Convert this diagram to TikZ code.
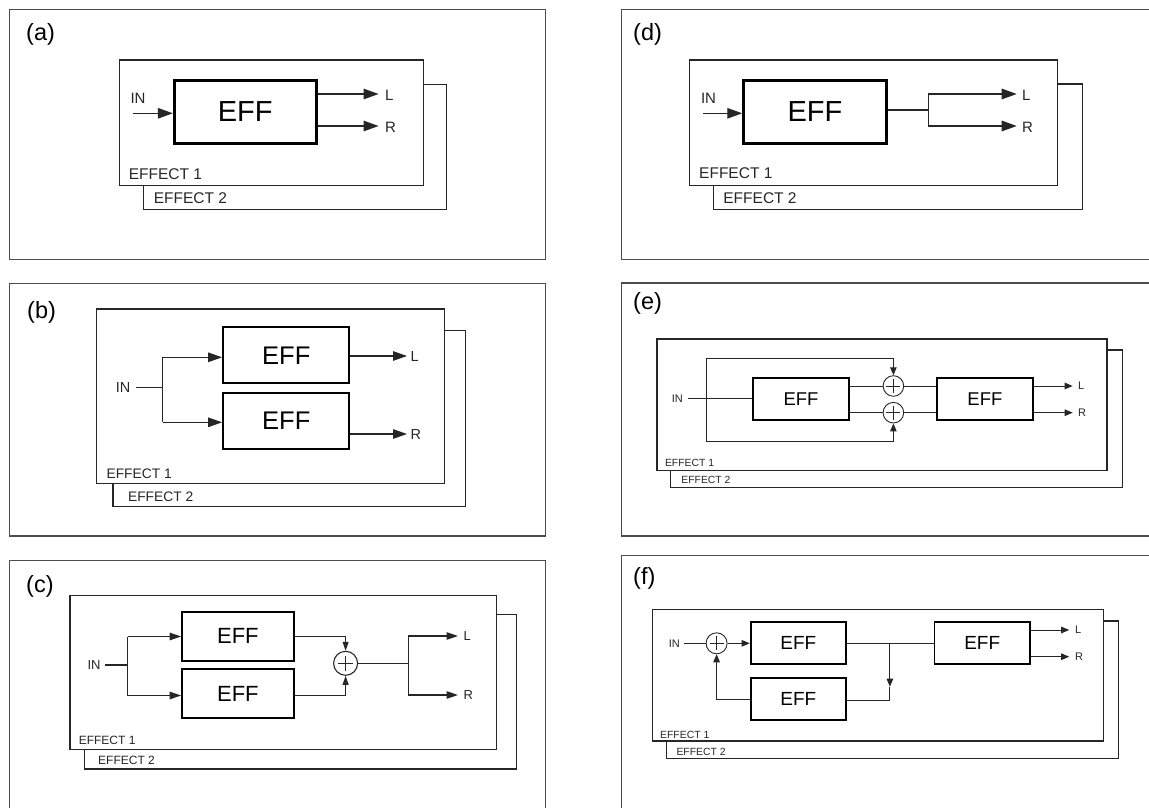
\documentclass[tikz,border=0pt]{standalone}
\usepackage{fontspec}
\setmainfont{Liberation Sans}
\usetikzlibrary{arrows.meta}
\newcommand{\pxf}[1]{\fontsize{#1}{#1}\selectfont}
\tikzset{
  panel/.style={draw=black!70, line width=1.2pt},
  frm/.style={draw=black!85, fill=white, line width=#1},
  frm/.default=1.2pt,
  effn/.style={draw=black, fill=white, inner sep=0pt},
  txt/.style={inner sep=0pt, text=black!85},
  lab/.style={inner sep=0pt, anchor=west, font=\pxf{23.5}},
  sumn/.style={draw=black!85, fill=white, circle, inner sep=0pt},
  conn/.style={draw=black!85, line width=#1},
  conn/.default=1.3pt,
  tipA/.style={-{Triangle[length=15pt,width=10.5pt]}},
  tipB/.style={-{Triangle[length=14pt,width=9.5pt]}},
  tipC/.style={-{Triangle[length=11.5pt,width=7.5pt]}},
  tipS/.style={-{Triangle[length=9pt,width=6pt]}},
  tipE/.style={-{Triangle[length=8pt,width=6.5pt]}},
}
\begin{document}
\begin{tikzpicture}[x=1pt,y=-1pt]
\useasboundingbox (0,0) rectangle (1149,808);

% ================= (a) =================
\draw[panel] (9.5,9.5) rectangle (545.5,259.5);
\node[lab] (a-lab) at (26,34) {(a)};
\draw[frm] (143.6,84.3) rectangle (446.4,209.3);
\draw[frm] (119.6,60) rectangle (423.2,185.3);
\node[effn, line width=2.7pt, minimum width=142pt, minimum height=63pt, font=\pxf{29}] (a-eff) at (245.2,111.7) {EFF};
\node[txt, font=\pxf{15}] (a-in) at (138,98) {IN};
\coordinate (a-ins) at (133,113.3);
\draw[conn, tipA] (a-ins) -- (a-ins -| a-eff.west);
\coordinate (a-Lc) at (378.6,94);
\coordinate (a-Rc) at (378.6,126);
\draw[conn, tipA] (a-eff.east |- a-Lc) -- (a-Lc);
\draw[conn, tipA] (a-eff.east |- a-Rc) -- (a-Rc);
\node[txt, anchor=west, font=\pxf{15}] (a-L) at (385,95.5) {L};
\node[txt, anchor=west, font=\pxf{15}] (a-R) at (385,127) {R};
\node[txt, anchor=west, font=\pxf{15.5}] (a-e1) at (128.6,173.7) {EFFECT 1};
\node[txt, anchor=west, font=\pxf{15.5}] (a-e2) at (153.6,197.8) {EFFECT 2};

% ================= (d) =================
\draw[panel] (1152,9.5) -- (621.7,9.5) -- (621.7,259.5) -- (1152,259.5);
\node[lab] (d-lab) at (633,34) {(d)};
\draw[frm] (713.1,84) rectangle (1082.2,209.3);
\draw[frm] (689.3,60) rectangle (1057.6,185.3);
\node[effn, line width=2.7pt, minimum width=142.8pt, minimum height=63pt, font=\pxf{29}] (d-eff) at (815,111.7) {EFF};
\node[txt, font=\pxf{15}] (d-in) at (708.5,98.3) {IN};
\coordinate (d-ins) at (703.3,113.3);
\draw[conn, tipA] (d-ins) -- (d-ins -| d-eff.west);
\coordinate (d-sp) at (928.4,110);
\coordinate (d-Lc) at (1016.7,94);
\coordinate (d-Rc) at (1016.7,126);
\draw[conn] (d-eff.east |- d-sp) -- (d-sp);
\draw[conn, tipA] (d-Lc -| d-sp) -- (d-Lc);
\draw[conn, tipA] (d-Rc -| d-sp) -- (d-Rc);
\draw[conn] (d-Lc -| d-sp) -- (d-Rc -| d-sp);
\node[txt, anchor=west, font=\pxf{15}] (d-L) at (1022,95.5) {L};
\node[txt, anchor=west, font=\pxf{15}] (d-R) at (1022,127) {R};
\node[txt, anchor=west, font=\pxf{15.5}] (d-e1) at (699,173.3) {EFFECT 1};
\node[txt, anchor=west, font=\pxf{15.5}] (d-e2) at (723.2,198.3) {EFFECT 2};

% ================= (b) =================
\draw[panel] (9.5,283.5) rectangle (545.5,536);
\node[lab] (b-lab) at (27,312) {(b)};
\draw[frm] (112.9,330.3) rectangle (465.7,506.7);
\draw[frm] (96.4,309) rectangle (444.6,483.3);
\node[effn, line width=2.3pt, minimum width=126pt, minimum height=56pt, font=\pxf{25.5}] (b-eff1) at (286.25,355.3) {EFF};
\node[effn, line width=2.3pt, minimum width=126pt, minimum height=56pt, font=\pxf{25.5}] (b-eff2) at (286.25,420.8) {EFF};
\node[txt, font=\pxf{14.5}] (b-in) at (123.2,388) {IN};
\coordinate (b-ins) at (136.4,387.3);
\coordinate (b-sp) at (162.5,387.3);
\coordinate (b-t1) at (162.5,357.3);
\coordinate (b-t2) at (162.5,422.3);
\draw[conn=1.2pt] (b-ins) -- (b-sp);
\draw[conn=1.2pt] (b-t1) -- (b-t2);
\draw[conn=1.2pt, tipB] (b-t1) -- (b-t1 -| b-eff1.west);
\draw[conn=1.2pt, tipB] (b-t2) -- (b-t2 -| b-eff2.west);
\coordinate (b-Lc) at (407,356);
\coordinate (b-Rc) at (407,434);
\draw[conn=1.2pt, tipB] (b-eff1.east |- b-Lc) -- (b-Lc);
\draw[conn=1.2pt, tipB] (b-eff2.east |- b-Rc) -- (b-Rc);
\node[txt, anchor=west, font=\pxf{14.5}] (b-L) at (410.5,357) {L};
\node[txt, anchor=west, font=\pxf{14.5}] (b-R) at (410.5,435) {R};
\node[txt, anchor=west, font=\pxf{13.8}] (b-e1) at (106.4,474) {EFFECT 1};
\node[txt, anchor=west, font=\pxf{13.8}] (b-e2) at (127.9,496.7) {EFFECT 2};

% ================= (c) =================
\draw[panel] (9.5,812) -- (9.5,560.5) -- (545.5,560.5) -- (545.5,812);
\node[lab] (c-lab) at (26,586) {(c)};
\draw[frm=1.1pt] (84.3,614.3) rectangle (516.4,769);
\draw[frm=1.1pt] (70,595.7) rectangle (496.4,749.3);
\node[effn, line width=2pt, minimum width=111.5pt, minimum height=49.3pt, font=\pxf{22}] (c-eff1) at (237.85,636.3) {EFF};
\node[effn, line width=2pt, minimum width=111.5pt, minimum height=49pt, font=\pxf{22}] (c-eff2) at (237.85,693.8) {EFF};
\node[txt, font=\pxf{13}] (c-in) at (94,665) {IN};
\coordinate (c-ins) at (105.4,665);
\coordinate (c-sp) at (127.5,665);
\coordinate (c-t1) at (127.5,636.5);
\coordinate (c-t2) at (127.5,695.5);
\draw[conn=1.1pt] (c-ins) -- (c-sp);
\draw[conn=1.1pt] (c-t1) -- (c-t2);
\draw[conn=1.1pt, tipC] (c-t1) -- (c-t1 -| c-eff1.west);
\draw[conn=1.1pt, tipC] (c-t2) -- (c-t2 -| c-eff2.west);
\node[sumn, line width=1.1pt, minimum size=24pt] (c-sum) at (345.6,663.3) {};
\draw[conn=1pt] (c-sum.center) +(-7.5,0) -- +(7.5,0) (c-sum.center) +(0,-7.5) -- +(0,7.5);
\draw[conn=1.1pt, tipS] (c-eff1.east |- c-t1) -- (c-sum.north |- c-t1) -- (c-sum.north);
\draw[conn=1.1pt, tipS] (c-eff2.east |- c-t2) -- (c-sum.south |- c-t2) -- (c-sum.south);
\coordinate (c-sp2) at (408.3,663.3);
\coordinate (c-Lc) at (458,636);
\coordinate (c-Rc) at (458,695);
\draw[conn=1.1pt] (c-sum.east) -- (c-sp2);
\draw[conn=1.1pt] (c-Lc -| c-sp2) -- (c-Rc -| c-sp2);
\draw[conn=1.1pt, tipC] (c-Lc -| c-sp2) -- (c-Lc);
\draw[conn=1.1pt, tipC] (c-Rc -| c-sp2) -- (c-Rc);
\node[txt, anchor=west, font=\pxf{13}] (c-L) at (463.3,636.5) {L};
\node[txt, anchor=west, font=\pxf{13}] (c-R) at (463.3,695.5) {R};
\node[txt, anchor=west, font=\pxf{12}] (c-e1) at (78.6,740) {EFFECT 1};
\node[txt, anchor=west, font=\pxf{12}] (c-e2) at (98,760) {EFFECT 2};

% ================= (e) =================
\draw[panel] (1152,283) -- (621.7,283) -- (621.7,536) -- (1152,536);
\node[lab] (e-lab) at (633,303) {(e)};
\draw[frm=1.1pt] (670.4,350) rectangle (1122.8,487.3);
\draw[frm=1.1pt] (657,339) rectangle (1107,470.7);
\node[effn, line width=1.8pt, minimum width=96pt, minimum height=42.3pt, font=\pxf{18.5}] (e-eff1) at (801,398.8) {EFF};
\node[effn, line width=1.8pt, minimum width=96.3pt, minimum height=42.3pt, font=\pxf{18.5}] (e-eff2) at (984.95,398.8) {EFF};
\node[sumn, line width=0.9pt, minimum size=20.6pt] (e-sum1) at (893.4,386) {};
\node[sumn, line width=0.9pt, minimum size=20.6pt] (e-sum2) at (893.4,412.7) {};
\draw[conn=0.9pt] (e-sum1.center) +(-7,0) -- +(7,0) (e-sum1.center) +(0,-7) -- +(0,7);
\draw[conn=0.9pt] (e-sum2.center) +(-7,0) -- +(7,0) (e-sum2.center) +(0,-7) -- +(0,7);
\node[txt, font=\pxf{11}] (e-in) at (677.4,398.3) {IN};
\coordinate (e-ins) at (687.5,398.3);
\draw[conn=1pt] (e-ins) -- (e-ins -| e-eff1.west);
\coordinate (e-bt) at (706.8,358.3);
\coordinate (e-bb) at (706.8,441.7);
\draw[conn=1pt] (e-bt) -- (e-bb);
\draw[conn=1pt, tipE] (e-bt) -- (e-sum1.north |- e-bt) -- (e-sum1.north);
\draw[conn=1pt, tipE] (e-bb) -- (e-sum2.south |- e-bb) -- (e-sum2.south);
\draw[conn=1pt] (e-eff1.east |- e-sum1) -- (e-sum1.west);
\draw[conn=1pt] (e-eff1.east |- e-sum2) -- (e-sum2.west);
\draw[conn=1pt] (e-sum1.east) -- (e-eff2.west |- e-sum1);
\draw[conn=1pt] (e-sum2.east) -- (e-eff2.west |- e-sum2);
\coordinate (e-Lc) at (1072.7,386);
\coordinate (e-Rc) at (1072.7,412.7);
\draw[conn=1pt, tipE] (e-eff2.east |- e-Lc) -- (e-Lc);
\draw[conn=1pt, tipE] (e-eff2.east |- e-Rc) -- (e-Rc);
\node[txt, anchor=west, font=\pxf{11}] (e-L) at (1078,386) {L};
\node[txt, anchor=west, font=\pxf{11}] (e-R) at (1078,413) {R};
\node[txt, anchor=west, font=\pxf{10.4}] (e-e1) at (664.8,462.7) {EFFECT 1};
\node[txt, anchor=west, font=\pxf{10.4}] (e-e2) at (681.2,480) {EFFECT 2};

% ================= (f) =================
\draw[panel] (1152,555.5) -- (621.7,555.5) -- (621.7,812);
\node[lab] (f-lab) at (633,578) {(f)};
\draw[frm=1.1pt] (666.2,621) rectangle (1118.9,758.3);
\draw[frm=1.1pt] (652.9,609.3) rectangle (1103.2,741);
\node[effn, line width=1.8pt, minimum width=95.5pt, minimum height=41.7pt, font=\pxf{19}] (f-eff1) at (798.35,643.2) {EFF};
\node[effn, line width=1.8pt, minimum width=95.5pt, minimum height=42.3pt, font=\pxf{19}] (f-eff2) at (798.35,698.8) {EFF};
\node[effn, line width=1.8pt, minimum width=95.6pt, minimum height=41.7pt, font=\pxf{19}] (f-eff3) at (982.2,643.2) {EFF};
\node[sumn, line width=0.9pt, minimum size=21pt] (f-sum) at (716.6,643.3) {};
\draw[conn=0.9pt] (f-sum.center) +(-7,0) -- +(7,0) (f-sum.center) +(0,-7) -- +(0,7);
\node[txt, font=\pxf{11}] (f-in) at (674.4,643.3) {IN};
\coordinate (f-ins) at (684,643.3);
\draw[conn=1pt] (f-ins) -- (f-sum.west);
\draw[conn=1pt, tipE] (f-sum.east) -- (f-eff1.west |- f-sum);
\coordinate (f-j) at (889.9,643.5);
\coordinate (f-jm) at (889.9,686.7);
\coordinate (f-jb) at (889.9,700);
\draw[conn=1pt] (f-eff1.east |- f-j) -- (f-eff3.west |- f-j);
\draw[conn=1pt, tipE] (f-j) -- (f-jm);
\draw[conn=1pt] (f-jm) -- (f-jb) -- (f-eff2.east |- f-jb);
\coordinate (f-fb) at (716.6,699.3);
\draw[conn=1pt, tipE] (f-eff2.west |- f-fb) -- (f-fb) -- (f-sum.south);
\coordinate (f-Lc) at (1069.2,630);
\coordinate (f-Rc) at (1069.2,656.7);
\draw[conn=1pt, tipE] (f-eff3.east |- f-Lc) -- (f-Lc);
\draw[conn=1pt, tipE] (f-eff3.east |- f-Rc) -- (f-Rc);
\node[txt, anchor=west, font=\pxf{11}] (f-L) at (1075,630) {L};
\node[txt, anchor=west, font=\pxf{11}] (f-R) at (1075,657) {R};
\node[txt, anchor=west, font=\pxf{10.4}] (f-e1) at (660,735) {EFFECT 1};
\node[txt, anchor=west, font=\pxf{10.4}] (f-e2) at (676.3,751.7) {EFFECT 2};
\end{tikzpicture}
\end{document}
